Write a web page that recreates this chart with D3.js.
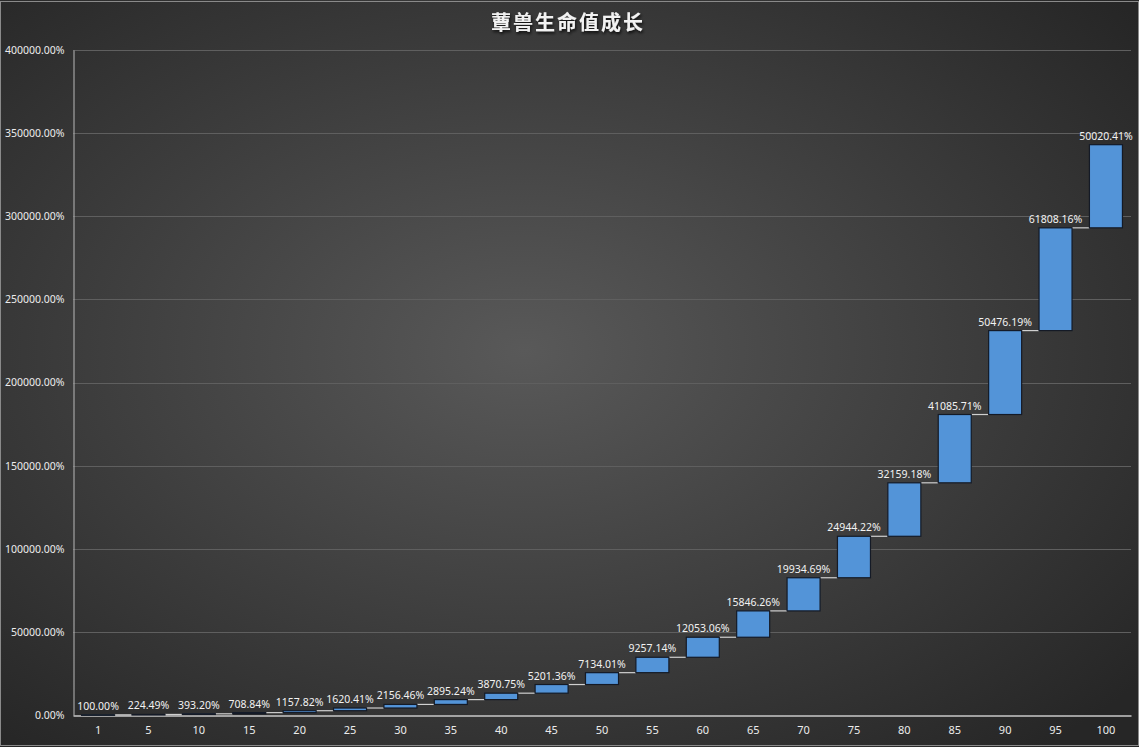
<!DOCTYPE html>
<html>
<head>
<meta charset="utf-8">
<script src="https://cdn.jsdelivr.net/npm/d3@7"></script>
<style>
  html, body { margin: 0; padding: 0; background: #2b2b2b; }
  svg { display: block; }
</style>
</head>
<body>
<svg class="svg" width="1139" height="747"></svg>
<script>
let titleText = '蕈兽生命值成长';
let levels = ['1','5','10','15','20','25','30','35','40','45','50','55','60','65','70','75','80','85','90','95','100'];
let growth = [100.00, 224.49, 393.20, 708.84, 1157.82, 1620.41, 2156.46, 2895.24, 3870.75, 5201.36,
              7134.01, 9257.14, 12053.06, 15846.26, 19934.69, 24944.22, 32159.18, 41085.71, 50476.19, 61808.16, 50020.41];
let yTicks = [0, 50000, 100000, 150000, 200000, 250000, 300000, 350000, 400000];

let svgWidth = 1139;
let svgHeight = 747;
let plotLeft = 73;
let plotRight = 1131;
let plotTop = 50;
let plotBottom = 715;
let numFont = '"Noto Sans", "DejaVu Sans", sans-serif';

let svg = d3.select('.svg');

// background radial gradient
let defs = svg.append('defs');
let grad = defs.append('radialGradient')
    .attr('id', 'bg')
    .attr('cx', '46%').attr('cy', '47%').attr('r', '70%');
grad.append('stop').attr('offset', '0%').attr('stop-color', '#595959');
grad.append('stop').attr('offset', '100%').attr('stop-color', '#262626');

let shadow = defs.append('filter').attr('id', 'shadow')
    .attr('x', '-10%').attr('y', '-30%').attr('width', '120%').attr('height', '160%');
shadow.append('feDropShadow')
    .attr('dx', 1).attr('dy', 2).attr('stdDeviation', 1.5)
    .attr('flood-color', '#000').attr('flood-opacity', 0.8);

svg.append('rect')
    .attr('x', 0).attr('y', 0)
    .attr('width', svgWidth).attr('height', svgHeight)
    .attr('fill', 'url(#bg)');
svg.append('rect')
    .attr('x', 0.5).attr('y', 1.5)
    .attr('width', svgWidth - 1).attr('height', svgHeight - 3)
    .attr('fill', 'none')
    .attr('stroke', '#8a8a8a')
    .attr('stroke-width', 1);

// build waterfall rows
let rows = [];
let sum = 0;
for (let i = 0; i < levels.length; i++) {
    rows.push({name: levels[i], v: growth[i], start: sum, end: sum + growth[i]});
    sum += growth[i];
}

let x = d3.scaleBand()
    .domain(levels)
    .range([plotLeft, plotRight])
    .paddingInner(0.345)
    .paddingOuter(0.17);
let y = d3.scaleLinear()
    .domain([0, 400000])
    .range([plotBottom, plotTop]);

// gridlines
svg.append('g').attr('class', 'grid')
    .selectAll('line')
    .data(yTicks.filter(function (d) { return d > 0; }))
    .enter().append('line')
    .attr('x1', plotLeft).attr('x2', plotRight)
    .attr('y1', function (d) { return Math.round(y(d)) + 0.5; })
    .attr('y2', function (d) { return Math.round(y(d)) + 0.5; })
    .style('stroke', '#5f5f5f')
    .style('stroke-width', 1);

// y axis
let yAxis = svg.append('g')
    .attr('transform', 'translate(' + (plotLeft + 0.5) + ',0)')
    .call(d3.axisLeft(y).tickValues(yTicks).tickSize(0).tickPadding(9)
        .tickFormat(function (d) { return d3.format('.2f')(d) + '%'; }));
yAxis.select('.domain').attr('stroke', '#b8b8b8');
yAxis.selectAll('text')
    .attr('fill', '#ececec')
    .style('font-family', numFont)
    .style('font-size', '10.5px');

// x axis
let xAxis = svg.append('g')
    .attr('transform', 'translate(0,' + (plotBottom + 0.5) + ')')
    .call(d3.axisBottom(x).tickSize(0).tickPadding(11));
xAxis.select('.domain').attr('stroke', '#c8c8c8').attr('stroke-width', 1.5);
xAxis.selectAll('text')
    .attr('fill', '#ececec')
    .style('font-family', numFont)
    .style('font-size', '11px');

// connectors
svg.append('g').attr('class', 'connectors')
    .selectAll('line')
    .data(rows.slice(0, rows.length - 1))
    .enter().append('line')
    .attr('x1', function (d) { return x(d.name) + x.bandwidth(); })
    .attr('x2', function (d, i) { return x(rows[i + 1].name); })
    .attr('y1', function (d) { return y(d.end); })
    .attr('y2', function (d) { return y(d.end); })
    .style('stroke', '#d0d0d0')
    .style('stroke-width', 1.2);

// bars
let bar = svg.append('g').attr('class', 'barGroup')
    .selectAll('g')
    .data(rows)
    .enter().append('g')
    .attr('class', 'barG');

bar.append('rect')
    .attr('x', function (d) { return x(d.name); })
    .attr('y', function (d) { return y(d.end); })
    .attr('width', x.bandwidth())
    .attr('height', function (d) { return Math.max(0.5, y(d.start) - y(d.end)); })
    .attr('fill', '#5394d8')
    .attr('stroke', '#141a26')
    .attr('stroke-width', 1.2);

bar.append('text')
    .attr('x', function (d) { return x(d.name) + x.bandwidth() / 2; })
    .attr('y', function (d) { return y(d.end) - 5; })
    .attr('text-anchor', 'middle')
    .attr('fill', '#f2f2f2')
    .style('font-family', numFont)
    .style('font-size', '10.5px')
    .text(function (d) { return d3.format('.2f')(d.v) + '%'; });

// title
svg.append('text')
    .attr('x', 568)
    .attr('y', 30)
    .attr('text-anchor', 'middle')
    .attr('fill', '#f2f2f2')
    .attr('filter', 'url(#shadow)')
    .style('font-family', '"Noto Sans CJK SC", sans-serif')
    .style('font-weight', 'bold')
    .style('font-size', '20px')
    .style('letter-spacing', '2px')
    .text(titleText);
</script>
</body>
</html>
